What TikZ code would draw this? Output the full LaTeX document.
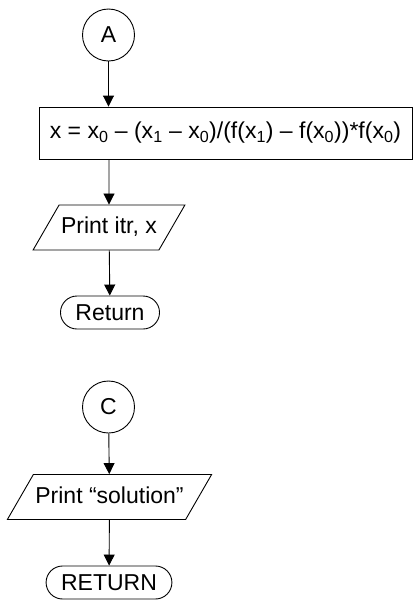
\documentclass[tikz,border=0pt]{standalone}
\usepackage{fontspec}
\setmainfont{Liberation Sans}
\usepackage{tikz}
\usetikzlibrary{arrows.meta, positioning, shapes.geometric}

\begin{document}
\begin{tikzpicture}[
  x=1pt, y=1pt,
  font=\fontsize{23}{27}\selectfont,
  line width=0.9pt,
  conn/.style={draw, circle, minimum size=52pt, inner sep=0pt},
  proc/.style={draw, rectangle, minimum width=373pt, minimum height=52pt, inner sep=0pt},
  io/.style={draw, trapezium, trapezium left angle=60, trapezium right angle=120, text height=17pt, text depth=5pt, inner xsep=2pt, inner ysep=11.5pt},
  term/.style={draw, rounded corners=16.5pt, minimum height=33pt, inner xsep=15pt, inner ysep=0pt},
  flow/.style={-{Triangle[length=11pt, width=11pt]}}
]
\useasboundingbox (0,0) rectangle (415,-600);

% first part
\node[conn] (a) at (108.5,-35) {A};
\node[proc] (calc) at (225.5,-133) {x = x\textsubscript{0} -- (x\textsubscript{1} -- x\textsubscript{0})/(f(x\textsubscript{1}) -- f(x\textsubscript{0}))*f(x\textsubscript{0})};
\node[io] (printx) at (109,-227.5) {Print itr, x};
\node[term] (ret) at (110,-312.5) {Return};

\draw[flow] (a) -- (a |- calc.north);
\draw[flow] (printx |- calc.south) -- (printx);
\draw[flow] (printx) -- (ret);

% second part
\node[conn] (c) at (108.5,-407) {C};
\node[io] (printsol) at (109.5,-497) {Print ``solution''};
\node[term] (retc) at (109,-582.5) {RETURN};

\draw[flow] (c) -- (printsol);
\draw[flow] (printsol) -- (retc);
\end{tikzpicture}
\end{document}
